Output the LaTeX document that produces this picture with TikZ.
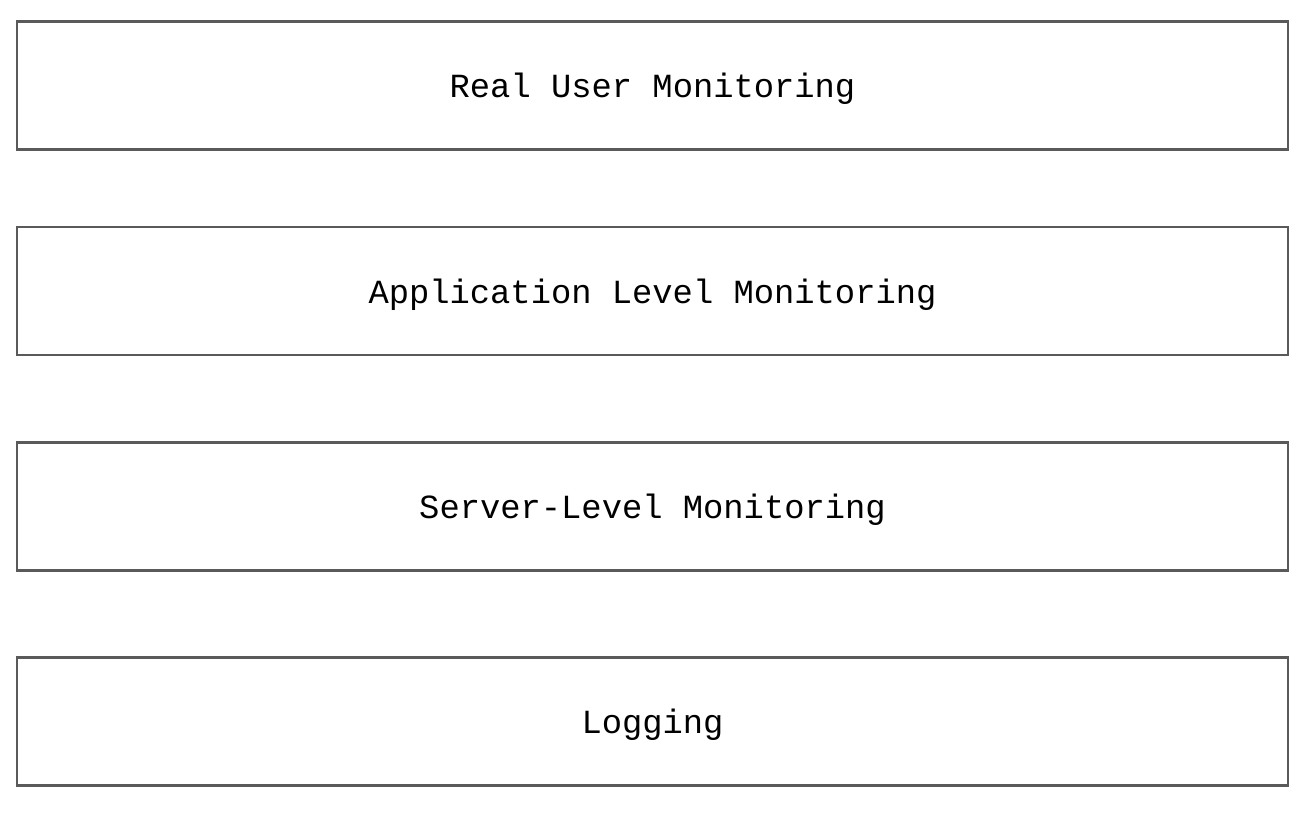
\documentclass[tikz,border=0pt]{standalone}
\usepackage{fontspec}
\setmonofont{Liberation Mono}
\definecolor{boxline}{HTML}{5A5A5A}
\begin{document}
\begin{tikzpicture}[x=1pt,y=-1pt,
  layerbox/.style={draw=boxline, line width=2.2pt, minimum width=1271pt, minimum height=128pt, inner sep=0pt, text height=24pt, text depth=0pt, font=\ttfamily\fontsize{33.8}{40}\selectfont, text=black}]
\useasboundingbox (0,0) rectangle (1312,812);
\node[layerbox] (rum) at (652.5,85.5) {Real User Monitoring};
\node[layerbox] (alm) at (652.5,291) {Application Level Monitoring};
\node[layerbox] (slm) at (652.5,506.5) {Server-Level Monitoring};
\node[layerbox] (log) at (652.5,721.5) {Logging};
\end{tikzpicture}
\end{document}
